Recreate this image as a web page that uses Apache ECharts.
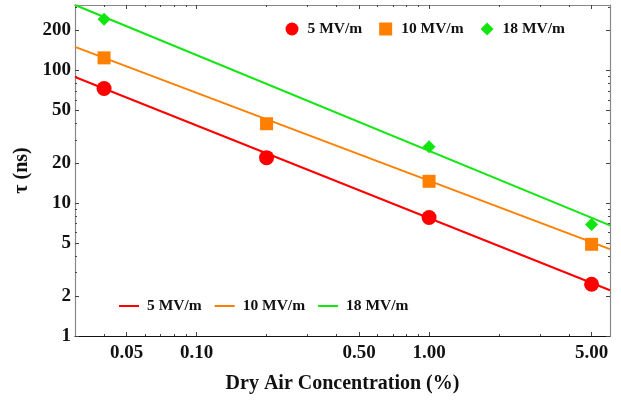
<!DOCTYPE html>
<html>
<head>
<meta charset="utf-8">
<script src="https://cdn.jsdelivr.net/npm/echarts@6/dist/echarts.min.js"></script>
<style>
html,body{margin:0;padding:0;background:#fff;}
#chart{width:621px;height:403px;}
</style>
</head>
<body>
<div id="chart"></div>
<script>
// ---- data ----
const concentrations = [0.04, 0.2, 1, 5];          // Dry air concentration (%)
const tau5  = [73, 22, 7.8, 2.45];                  // ns, 5 MV/m
const tau10 = [124, 39.6, 14.6, 4.9];               // ns, 10 MV/m
const tau18 = [242, null, 26.6, 6.9];               // ns, 18 MV/m
const fitX   = [0.03, 6];                           // fit line end points (x)
const fit5   = [89, 2.21];
const fit10  = [150, 4.5];
const fit18  = [310, 6.8];
const seriesNames = ['5 MV/m', '10 MV/m', '18 MV/m'];
const xMajorTicks = [0.05, 0.1, 0.5, 1, 5];
const xMajorLabels = ['0.05', '0.10', '0.50', '1.00', '5.00'];
const xMinorTicks = [0.04, 0.06, 0.07, 0.08, 0.09, 0.2, 0.3, 0.4, 0.6, 0.7, 0.8, 0.9, 2, 3, 4];
const yMajorTicks = [1, 2, 5, 10, 20, 50, 100, 200];
const yMajorLabels = ['1', '2', '5', '10', '20', '50', '100', '200'];
const yMinorTicks = [3, 4, 6, 7, 8, 9, 30, 40, 60, 70, 80, 90, 300];
const xRange = [0.03, 6];
const yRange = [1, 310];

const colors = ['#ff0000', '#ff7f00', '#11e611'];
const symbols = ['circle', 'rect', 'diamond'];
const symbolSizes = [15, 13, 13];

const L = Math.log10;
const font = 'Liberation Serif';

function pairs(xs, ys) {
  const out = [];
  xs.forEach((x, i) => { if (ys[i] != null) out.push([x, ys[i]]); });
  return out;
}
function labelFor(ticks, labels, v) {
  let best = 0, bd = Infinity;
  ticks.forEach((t, i) => { const d = Math.abs(L(t) - v); if (d < bd) { bd = d; best = i; } });
  return labels[best];
}

const hiddenAxisBits = {
  axisLine: {show: false, onZero: false}, axisTick: {show: false},
  axisLabel: {show: false}, splitLine: {show: false}
};

function decoAxis(isX, pos, range, ticks, len, lineColor, labels, labelTicks) {
  const ax = {
    type: 'value', position: pos, gridIndex: 0,
    min: L(range[0]), max: L(range[1]),
    axisLine: {show: !!lineColor, onZero: false, lineStyle: {color: lineColor || '#000', width: 1.2}},
    axisTick: {show: true, inside: true, length: len, customValues: ticks.map(L),
               lineStyle: {color: '#444', width: 1}},
    axisLabel: {show: false},
    splitLine: {show: false}
  };
  if (labels) {
    ax.axisLabel = {
      show: true, customValues: labelTicks.map(L),
      formatter: v => labelFor(labelTicks, labels, v),
      fontFamily: font, fontWeight: 'bold', fontSize: 19, color: '#111',
      margin: isX ? 8 : 4
    };
  }
  return ax;
}

const xAxes = [
  Object.assign({type: 'log', logBase: 10, min: xRange[0], max: xRange[1], position: 'bottom'}, hiddenAxisBits),
  Object.assign(decoAxis(true, 'bottom', xRange, xMajorTicks, 4, '#111', xMajorLabels, xMajorTicks), {
    name: 'Dry Air Concentration (%)', nameLocation: 'middle', nameGap: 38,
    nameTextStyle: {fontFamily: font, fontWeight: 'bold', fontSize: 20, color: '#111'}
  }),
  decoAxis(true, 'bottom', xRange, xMinorTicks, 2, null),
  decoAxis(true, 'top', xRange, xMajorTicks, 4, '#888'),
  decoAxis(true, 'top', xRange, xMinorTicks, 2, null)
];
const yAxes = [
  Object.assign({type: 'log', logBase: 10, min: yRange[0], max: yRange[1], position: 'left'}, hiddenAxisBits),
  Object.assign(decoAxis(false, 'left', yRange, yMajorTicks, 4, '#888', yMajorLabels, yMajorTicks), {
    name: 'τ (ns)', nameLocation: 'middle', nameGap: 36, nameRotate: 90,
    nameTextStyle: {fontFamily: font, fontWeight: 'bold', fontSize: 20, color: '#111'}
  }),
  decoAxis(false, 'left', yRange, yMinorTicks, 2, null),
  decoAxis(false, 'right', yRange, yMajorTicks, 4, '#888'),
  decoAxis(false, 'right', yRange, yMinorTicks, 2, null)
];

const fits = [fit5, fit10, fit18];
const pts = [tau5, tau10, tau18];
const series = [];
seriesNames.forEach((n, i) => {
  series.push({
    name: n + ' fit', type: 'line', xAxisIndex: 0, yAxisIndex: 0,
    data: pairs(fitX, fits[i]), showSymbol: false, symbol: 'none',
    lineStyle: {color: colors[i], width: 1.9}, itemStyle: {color: colors[i]},
    silent: true, animation: false, z: 2
  });
});
seriesNames.forEach((n, i) => {
  series.push({
    name: n, type: 'scatter', xAxisIndex: 0, yAxisIndex: 0,
    data: pairs(concentrations, pts[i]), symbol: symbols[i], symbolSize: symbolSizes[i],
    itemStyle: {color: colors[i], opacity: 1}, animation: false, z: 3
  });
});

const legendText = {fontFamily: font, fontWeight: 'bold', fontSize: 15.5, color: '#111', padding: [0, 0, 0, 4]};
const legendText2 = {fontFamily: font, fontWeight: 'bold', fontSize: 15.5, color: '#111', padding: [0, 0, 0, 3]};
const option = {
  backgroundColor: '#fff',
  animation: false,
  grid: {left: 75, right: 11, top: 5, bottom: 67, containLabel: false},
  xAxis: xAxes,
  yAxis: yAxes,
  legend: [
    {
      left: 285.5, top: 21, padding: 0, orient: 'horizontal', itemGap: 17,
      itemWidth: 13, itemHeight: 13, selectedMode: false,
      data: seriesNames.map((n, i) => ({name: n, icon: symbols[i]})),
      textStyle: legendText
    },
    {
      left: 119, top: 298, padding: 0, orient: 'horizontal', itemGap: 13,
      itemWidth: 20, itemHeight: 2, selectedMode: false,
      data: seriesNames.map(n => ({name: n + ' fit', icon: 'rect'})),
      formatter: name => name.replace(' fit', ''),
      textStyle: legendText2
    }
  ],
  series: series
};

const chart = echarts.init(document.getElementById('chart'), null, {renderer: 'canvas'});
chart.setOption(option);
</script>
</body>
</html>
